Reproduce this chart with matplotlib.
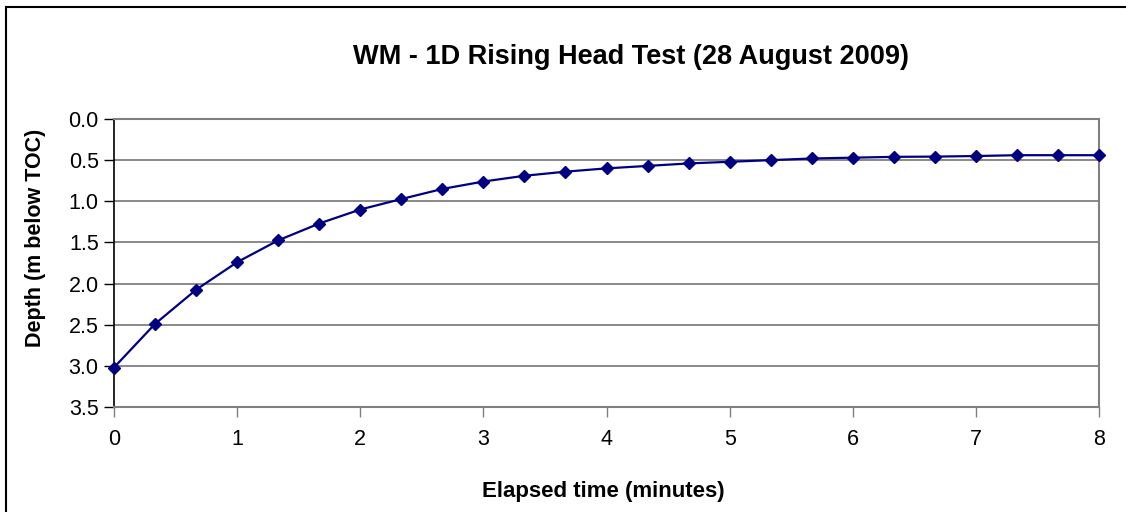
import matplotlib
matplotlib.use("Agg")
import matplotlib.pyplot as plt
from matplotlib.patches import Rectangle

# readings every 20 seconds, in minutes
elapsed_min = [i / 3 for i in range(25)]
depth_m = [3.02, 2.49, 2.075, 1.74, 1.475, 1.27, 1.10, 0.973, 0.85, 0.76,
           0.69, 0.64, 0.60, 0.57, 0.54, 0.52, 0.50, 0.48, 0.47, 0.46,
           0.457, 0.45, 0.44, 0.44, 0.44]

x_ticks = [0, 1, 2, 3, 4, 5, 6, 7, 8]
y_ticks = [0.0, 0.5, 1.0, 1.5, 2.0, 2.5, 3.0, 3.5]

plt.rcParams['font.family'] = ['Liberation Sans', 'DejaVu Sans']

fig = plt.figure(figsize=(11.26, 5.12), dpi=100)
W, H = 1126, 512

# chart area border (runs off the right and bottom edge)
fig.patches.append(Rectangle((6 / W, -0.05), 1.1, 1 - 7 / H + 0.05,
                             transform=fig.transFigure, fill=False,
                             edgecolor='black', linewidth=1.5))

ax = fig.add_axes([114 / W, 1 - 407 / H, (1099 - 114) / W, (407 - 119) / H])

ax.plot(elapsed_min, depth_m, color='#000080', linewidth=1.6,
        marker='D', markersize=6, markerfacecolor='#000080',
        markeredgecolor='#000080', zorder=3, clip_on=False)

ax.set_xlim(0, 8)
ax.set_ylim(3.5, 0.0)
ax.set_xticks(x_ticks)
ax.set_yticks(y_ticks)
ax.set_yticklabels([f"{v:.1f}" for v in y_ticks])
ax.grid(True, axis='y', color='#808080', linewidth=1.3)
ax.set_axisbelow(True)

for side in ['top', 'right', 'bottom']:
    ax.spines[side].set_color('#808080')
    ax.spines[side].set_linewidth(1.5)
ax.spines['left'].set_color('black')
ax.spines['left'].set_linewidth(1.2)

ax.tick_params(axis='y', direction='out', length=7, width=1, color='black',
               labelsize=15.5, pad=4)
ax.tick_params(axis='x', direction='out', length=7, width=1, color='#808080',
               labelsize=15.5, pad=9)

fig.text(631 / W, 1 - 57 / H, 'WM - 1D Rising Head Test (28 August 2009)',
         ha='center', va='center', fontsize=19.5, fontweight='bold')
fig.text(603 / W, 1 - 491 / H, 'Elapsed time (minutes)',
         ha='center', va='center', fontsize=16, fontweight='bold')
fig.text(36 / W, 1 - 238 / H, 'Depth (m below TOC)', rotation=90,
         ha='center', va='center', fontsize=15.5, fontweight='bold')

fig.savefig('out.png', dpi=100)
